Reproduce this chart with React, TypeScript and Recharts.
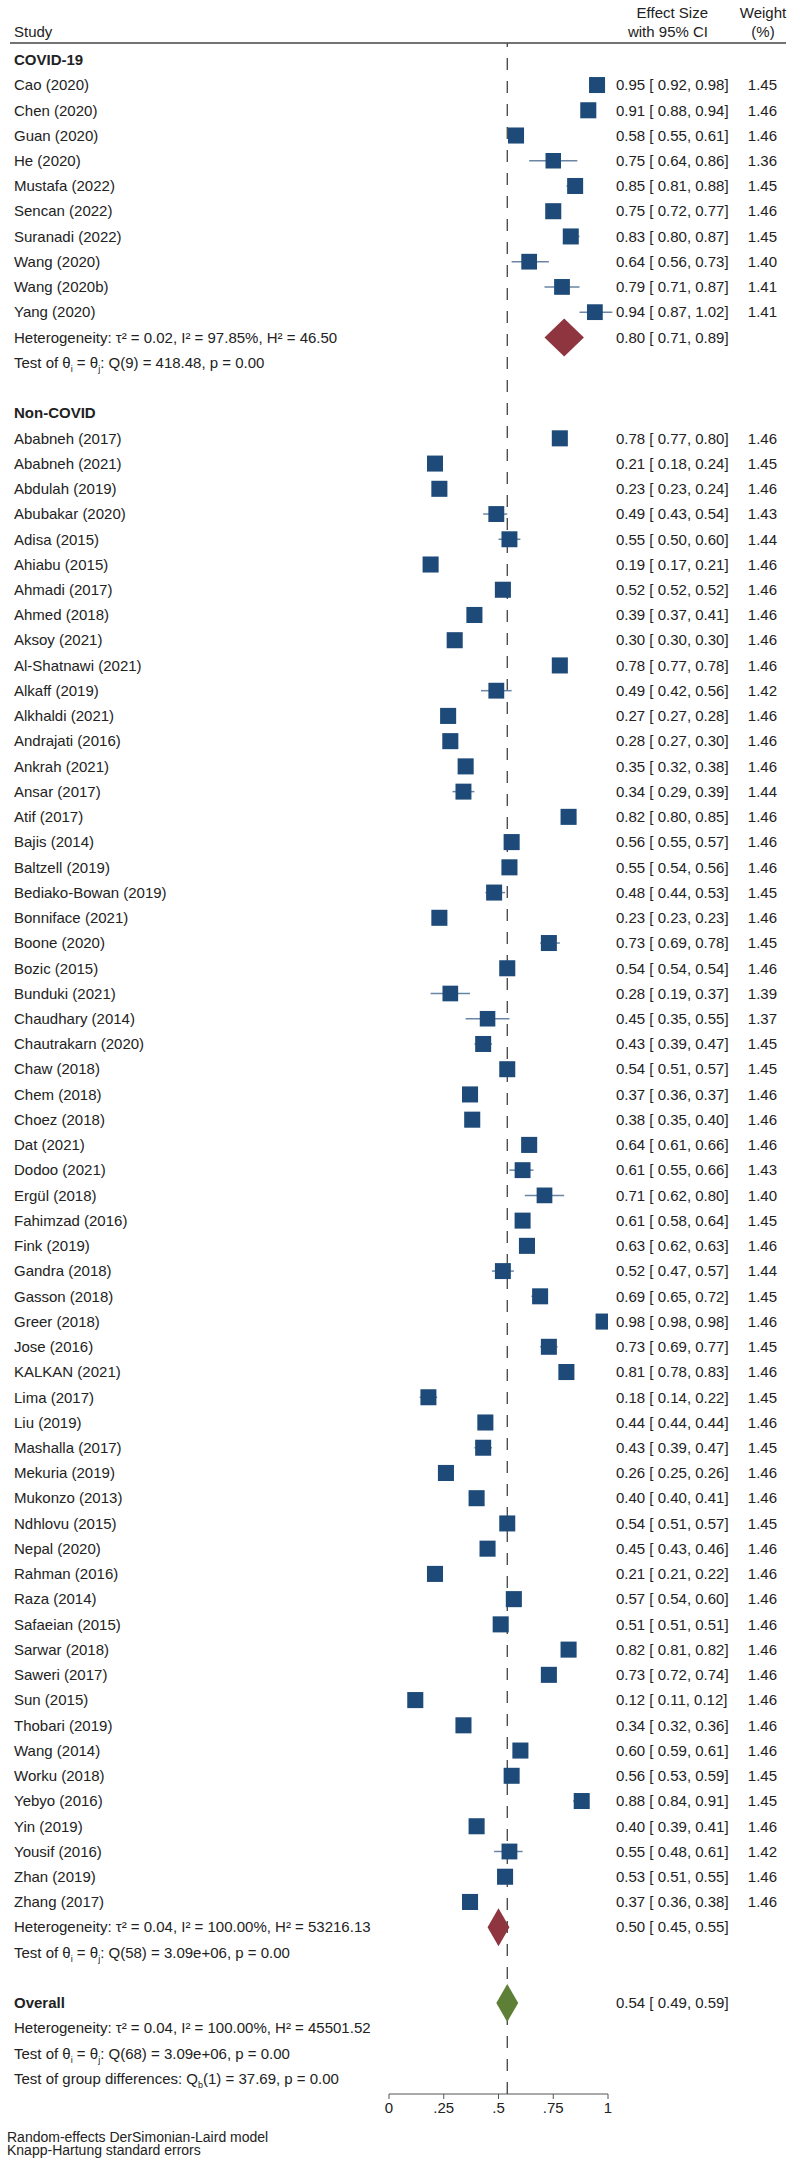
import React from "react";
import { ScatterChart, Scatter, XAxis, YAxis, ErrorBar, ReferenceLine } from "recharts";

// ---- data -----------------------------------------------------------------

const covidStudies = [
  "Cao (2020)", "Chen (2020)", "Guan (2020)", "He (2020)", "Mustafa (2022)",
  "Sencan (2022)", "Suranadi (2022)", "Wang (2020)", "Wang (2020b)", "Yang (2020)",
];
const covidEffect = [0.95, 0.91, 0.58, 0.75, 0.85, 0.75, 0.83, 0.64, 0.79, 0.94];
const covidLower = [0.92, 0.88, 0.55, 0.64, 0.81, 0.72, 0.8, 0.56, 0.71, 0.87];
const covidUpper = [0.98, 0.94, 0.61, 0.86, 0.88, 0.77, 0.87, 0.73, 0.87, 1.02];
const covidWeight = [1.45, 1.46, 1.46, 1.36, 1.45, 1.46, 1.45, 1.4, 1.41, 1.41];
const covidSubtotal = [0.8, 0.71, 0.89];
const covidHet = "Heterogeneity: τ² = 0.02, I² = 97.85%, H² = 46.50";
const covidTest = "Q(9) = 418.48, p = 0.00";

const nonCovidStudies = [
  "Ababneh (2017)", "Ababneh (2021)", "Abdulah (2019)", "Abubakar (2020)", "Adisa (2015)",
  "Ahiabu (2015)", "Ahmadi (2017)", "Ahmed (2018)", "Aksoy (2021)", "Al-Shatnawi (2021)",
  "Alkaff (2019)", "Alkhaldi (2021)", "Andrajati (2016)", "Ankrah (2021)", "Ansar (2017)",
  "Atif (2017)", "Bajis (2014)", "Baltzell (2019)", "Bediako-Bowan (2019)", "Bonniface (2021)",
  "Boone (2020)", "Bozic (2015)", "Bunduki (2021)", "Chaudhary (2014)", "Chautrakarn (2020)",
  "Chaw (2018)", "Chem (2018)", "Choez (2018)", "Dat (2021)", "Dodoo (2021)",
  "Ergül (2018)", "Fahimzad (2016)", "Fink (2019)", "Gandra (2018)", "Gasson (2018)",
  "Greer (2018)", "Jose (2016)", "KALKAN (2021)", "Lima (2017)", "Liu (2019)",
  "Mashalla (2017)", "Mekuria (2019)", "Mukonzo (2013)", "Ndhlovu (2015)", "Nepal (2020)",
  "Rahman (2016)", "Raza (2014)", "Safaeian (2015)", "Sarwar (2018)", "Saweri (2017)",
  "Sun (2015)", "Thobari (2019)", "Wang (2014)", "Worku (2018)", "Yebyo (2016)",
  "Yin (2019)", "Yousif (2016)", "Zhan (2019)", "Zhang (2017)",
];
const nonCovidEffect = [
  0.78, 0.21, 0.23, 0.49, 0.55, 0.19, 0.52, 0.39, 0.3, 0.78,
  0.49, 0.27, 0.28, 0.35, 0.34, 0.82, 0.56, 0.55, 0.48, 0.23,
  0.73, 0.54, 0.28, 0.45, 0.43, 0.54, 0.37, 0.38, 0.64, 0.61,
  0.71, 0.61, 0.63, 0.52, 0.69, 0.98, 0.73, 0.81, 0.18, 0.44,
  0.43, 0.26, 0.4, 0.54, 0.45, 0.21, 0.57, 0.51, 0.82, 0.73,
  0.12, 0.34, 0.6, 0.56, 0.88, 0.4, 0.55, 0.53, 0.37,
];
const nonCovidLower = [
  0.77, 0.18, 0.23, 0.43, 0.5, 0.17, 0.52, 0.37, 0.3, 0.77,
  0.42, 0.27, 0.27, 0.32, 0.29, 0.8, 0.55, 0.54, 0.44, 0.23,
  0.69, 0.54, 0.19, 0.35, 0.39, 0.51, 0.36, 0.35, 0.61, 0.55,
  0.62, 0.58, 0.62, 0.47, 0.65, 0.98, 0.69, 0.78, 0.14, 0.44,
  0.39, 0.25, 0.4, 0.51, 0.43, 0.21, 0.54, 0.51, 0.81, 0.72,
  0.11, 0.32, 0.59, 0.53, 0.84, 0.39, 0.48, 0.51, 0.36,
];
const nonCovidUpper = [
  0.8, 0.24, 0.24, 0.54, 0.6, 0.21, 0.52, 0.41, 0.3, 0.78,
  0.56, 0.28, 0.3, 0.38, 0.39, 0.85, 0.57, 0.56, 0.53, 0.23,
  0.78, 0.54, 0.37, 0.55, 0.47, 0.57, 0.37, 0.4, 0.66, 0.66,
  0.8, 0.64, 0.63, 0.57, 0.72, 0.98, 0.77, 0.83, 0.22, 0.44,
  0.47, 0.26, 0.41, 0.57, 0.46, 0.22, 0.6, 0.51, 0.82, 0.74,
  0.12, 0.36, 0.61, 0.59, 0.91, 0.41, 0.61, 0.55, 0.38,
];
const nonCovidWeight = [
  1.46, 1.45, 1.46, 1.43, 1.44, 1.46, 1.46, 1.46, 1.46, 1.46,
  1.42, 1.46, 1.46, 1.46, 1.44, 1.46, 1.46, 1.46, 1.45, 1.46,
  1.45, 1.46, 1.39, 1.37, 1.45, 1.45, 1.46, 1.46, 1.46, 1.43,
  1.4, 1.45, 1.46, 1.44, 1.45, 1.46, 1.45, 1.46, 1.45, 1.46,
  1.45, 1.46, 1.46, 1.45, 1.46, 1.46, 1.46, 1.46, 1.46, 1.46,
  1.46, 1.46, 1.46, 1.45, 1.45, 1.46, 1.42, 1.46, 1.46,
];
const nonCovidSubtotal = [0.5, 0.45, 0.55];
const nonCovidHet = "Heterogeneity: τ² = 0.04, I² = 100.00%, H² = 53216.13";
const nonCovidTest = "Q(58) = 3.09e+06, p = 0.00";

const overall = [0.54, 0.49, 0.59];
const overallHet = "Heterogeneity: τ² = 0.04, I² = 100.00%, H² = 45501.52";
const overallTest = "Q(68) = 3.09e+06, p = 0.00";
const groupDiff = "(1) = 37.69, p = 0.00";

const xTicks = [0, 0.25, 0.5, 0.75, 1];

// ---- layout ---------------------------------------------------------------

const FONT = '"Liberation Sans", Arial, Helvetica, sans-serif';
const TEXT = "#222";
const W = 800;
const H = 2164;
const PLOT_LEFT = 389;
const PLOT_RIGHT = 608;
const PLOT_TOP = 43;
const X_AXIS_H = 40;
const BOTTOM = 30;
const PX_PER_UNIT = PLOT_RIGHT - PLOT_LEFT; // x domain is [0, 1]
const ROW_DOMAIN: [number, number] = [-0.666, 80.61];
const LABEL_X = 14;
const ES_X = 616;
const WT_X = 777;
const DIAMOND_H = 38;

type Row = {
  row: number;
  kind: "group" | "study" | "het" | "test" | "overall" | "qb";
  label: string;
  es?: number;
  lo?: number;
  hi?: number;
  w?: number;
};

const rows: Row[] = [];
let cursor = 0;
const addGroup = (
  title: string, names: string[], es: number[], lo: number[], hi: number[],
  w: number[], sub: number[], het: string, test: string,
) => {
  rows.push({ row: cursor++, kind: "group", label: title });
  names.forEach((n, i) =>
    rows.push({ row: cursor++, kind: "study", label: n, es: es[i], lo: lo[i], hi: hi[i], w: w[i] }),
  );
  rows.push({ row: cursor++, kind: "het", label: het, es: sub[0], lo: sub[1], hi: sub[2] });
  rows.push({ row: cursor++, kind: "test", label: test });
  cursor++; // blank line
};
addGroup("COVID-19", covidStudies, covidEffect, covidLower, covidUpper, covidWeight, covidSubtotal, covidHet, covidTest);
addGroup("Non-COVID", nonCovidStudies, nonCovidEffect, nonCovidLower, nonCovidUpper, nonCovidWeight, nonCovidSubtotal, nonCovidHet, nonCovidTest);
rows.push({ row: cursor++, kind: "overall", label: "Overall", es: overall[0], lo: overall[1], hi: overall[2] });
rows.push({ row: cursor++, kind: "het", label: overallHet });
rows.push({ row: cursor++, kind: "test", label: overallTest });
rows.push({ row: cursor++, kind: "qb", label: groupDiff });

const rowMap = new Map(rows.map((d) => [d.row, d]));
const rowTicks = rows.map((d) => d.row);

const studyPoints = rows
  .filter((d) => d.kind === "study")
  .map((d) => ({ x: d.es!, y: d.row, err: [d.es! - d.lo!, d.hi! - d.es!], w: d.w! }));
const subtotalPoints = rows
  .filter((d) => d.kind === "het" && d.es !== undefined)
  .map((d) => ({ x: d.es!, y: d.row, lo: d.lo!, hi: d.hi! }));
const overallPoints = rows
  .filter((d) => d.kind === "overall")
  .map((d) => ({ x: d.es!, y: d.row, lo: d.lo!, hi: d.hi! }));

const fmt = (v: number) => v.toFixed(2);

// ---- shapes ---------------------------------------------------------------

const Square = (p: any) => {
  const s = 16 * Math.sqrt(p.payload.w / 1.45);
  return <rect x={p.cx - s / 2} y={p.cy - s / 2} width={s} height={s} fill="#1d4a78" />;
};

const diamond = (fill: string) => (p: any) => {
  const { cx, cy, payload } = p;
  const l = (payload.x - payload.lo) * PX_PER_UNIT;
  const r = (payload.hi - payload.x) * PX_PER_UNIT;
  const h = DIAMOND_H / 2;
  return <path d={`M${cx - l},${cy} L${cx},${cy - h} L${cx + r},${cy} L${cx},${cy + h} Z`} fill={fill} />;
};

const renderLabel = (d: Row) => {
  if (d.kind === "test") {
    return (
      <>
        Test of θ<tspan dy={4} fontSize={9}>i</tspan>
        <tspan dy={-4}> = θ</tspan>
        <tspan dy={4} fontSize={9}>j</tspan>
        <tspan dy={-4}>: {d.label}</tspan>
      </>
    );
  }
  if (d.kind === "qb") {
    return (
      <>
        Test of group differences: Q<tspan dy={4} fontSize={9}>b</tspan>
        <tspan dy={-4}>{d.label}</tspan>
      </>
    );
  }
  return d.label;
};

const RowTick = (props: any) => {
  const { y, payload } = props;
  const d = rowMap.get(payload.value);
  if (!d) return null;
  const bold = d.kind === "group" || d.kind === "overall";
  const common = { y, dy: "0.35em", fontFamily: FONT, fontSize: 15, fill: TEXT };
  return (
    <g>
      <text x={LABEL_X} {...common} fontWeight={bold ? 700 : 400} textAnchor="start">
        {renderLabel(d)}
      </text>
      {d.es !== undefined && (
        <text x={ES_X} {...common} textAnchor="start">
          {`${fmt(d.es)} [ ${fmt(d.lo!)}, ${fmt(d.hi!)}]`}
        </text>
      )}
      {d.w !== undefined && (
        <text x={WT_X} {...common} textAnchor="end">
          {fmt(d.w)}
        </text>
      )}
    </g>
  );
};

const xLabel = (v: number) => (v === 0 ? "0" : v === 1 ? "1" : String(v).replace(/^0/, ""));

export default function App() {
  const t = { fontFamily: FONT, fontSize: 15, fill: TEXT };
  return (
    <div style={{ position: "absolute", left: 0, top: 0, width: W, height: H, background: "#fff" }}>
      <ScatterChart
        width={W}
        height={H}
        margin={{ top: PLOT_TOP, right: W - PLOT_RIGHT, bottom: BOTTOM, left: 0 }}
      >
        <XAxis
          type="number"
          dataKey="x"
          domain={[0, 1]}
          allowDataOverflow
          ticks={xTicks}
          tickFormatter={xLabel}
          height={X_AXIS_H}
          stroke="#555"
          tickSize={5}
          tickMargin={3}
          tick={{ fontFamily: FONT, fontSize: 15, fill: TEXT }}
        />
        <YAxis
          type="number"
          dataKey="y"
          domain={ROW_DOMAIN}
          allowDataOverflow
          reversed
          width={PLOT_LEFT}
          ticks={rowTicks}
          interval={0}
          axisLine={false}
          tickLine={false}
          tick={<RowTick />}
        />
        <ReferenceLine x={overall[0]} stroke="#333" strokeWidth={1.2} strokeDasharray="12 11" />
        <Scatter data={studyPoints} shape={Square} isAnimationActive={false}>
          <ErrorBar dataKey="err" direction="x" width={0} stroke="#6a86a4" strokeWidth={1.5} />
        </Scatter>
        <Scatter data={subtotalPoints} shape={diamond("#8e3540")} isAnimationActive={false} />
        <Scatter data={overallPoints} shape={diamond("#5e7f36")} isAnimationActive={false} />
      </ScatterChart>
      <svg
        width={W}
        height={H}
        style={{ position: "absolute", left: 0, top: 0, pointerEvents: "none" }}
      >
        <text x={LABEL_X} y={32} dy="0.35em" {...t}>Study</text>
        <text x={708} y={13} dy="0.35em" textAnchor="end" {...t}>Effect Size</text>
        <text x={708} y={32} dy="0.35em" textAnchor="end" {...t}>with 95% CI</text>
        <text x={763} y={13} dy="0.35em" textAnchor="middle" {...t}>Weight</text>
        <text x={763} y={32} dy="0.35em" textAnchor="middle" {...t}>(%)</text>
        <line x1={10} x2={786} y1={43} y2={43} stroke="#444" strokeWidth={1.5} />
        <text x={7} y={2137} dy="0.35em" {...t} fontSize={14}>Random-effects DerSimonian-Laird model</text>
        <text x={7} y={2150} dy="0.35em" {...t} fontSize={14}>Knapp-Hartung standard errors</text>
      </svg>
    </div>
  );
}
